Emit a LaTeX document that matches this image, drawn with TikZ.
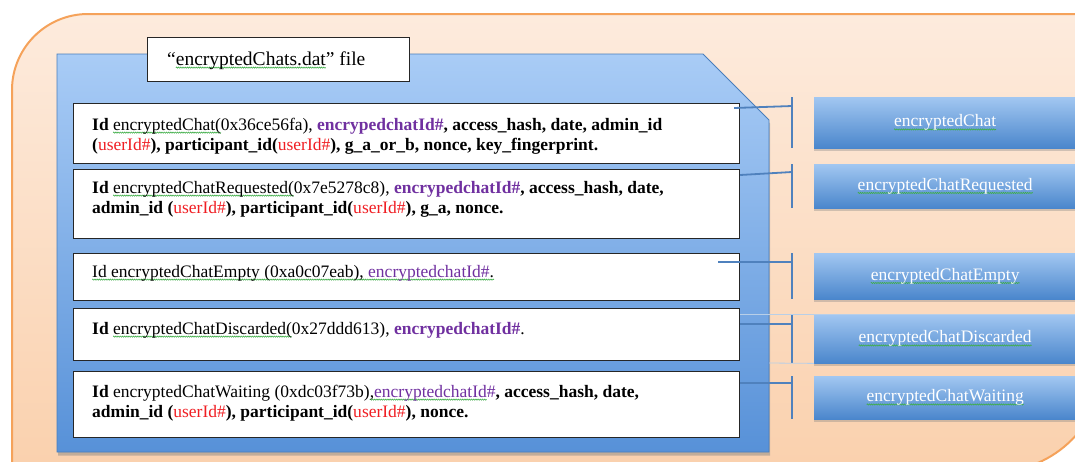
\documentclass[tikz,border=0pt]{standalone}
\usepackage{fontspec}
\setmainfont{Liberation Serif}
\usetikzlibrary{shadows,calc,decorations.pathmorphing}

\definecolor{frametop}{HTML}{FDEBDD}
\definecolor{framebot}{HTML}{FAD0AC}
\definecolor{frameline}{HTML}{F5A25A}
\definecolor{paneltop}{HTML}{A9CCF6}
\definecolor{panelbot}{HTML}{5791D8}
\definecolor{panelline}{HTML}{4A7EBB}
\definecolor{btntop}{HTML}{A2C7F1}
\definecolor{btnbot}{HTML}{4A86CC}
\definecolor{connblue}{HTML}{4F81BD}
\definecolor{faintblue}{HTML}{B8CFE8}
\definecolor{idpurple}{HTML}{7030A0}
\definecolor{idred}{HTML}{F01E23}
\definecolor{sqgreen}{HTML}{3FAE48}

% green wavy spell-check underline
\newsavebox\sqbox
\newcommand\squig[1]{\sbox\sqbox{#1}\rlap{\tikz[overlay, baseline=0pt, x=1pt, y=1pt]
  \draw[sqgreen, line width=0.6pt, decorate,
    decoration={zigzag, segment length=2.2pt, amplitude=0.6pt}]
  (0pt,-2.6pt) -- (\the\wd\sqbox,-2.6pt);}\usebox\sqbox}
\newcommand\pu[1]{\textcolor{idpurple}{#1}}
\newcommand\rd[1]{\textcolor{idred}{#1}}

\tikzset{
  x=1pt, y=-1pt,
  rec/.style={draw=black!85, line width=1.2pt, fill=white, anchor=north west,
    inner sep=0pt, minimum width=666pt},
  recline/.style={anchor=base west, inner sep=0pt,
    font=\fontsize{17.5}{20}\selectfont},
  btn/.style={anchor=north west, inner sep=0pt, minimum width=262pt,
    top color=btntop, bottom color=btnbot, text=white,
    font=\fontsize{17.5}{20}\selectfont,
    drop shadow={opacity=0.35, shadow xshift=0pt, shadow yshift=-2.5pt}},
  conn/.style={draw=connblue, line width=1.8pt},
  faint/.style={draw=faintblue, line width=0.8pt},
}

\begin{document}
\begin{tikzpicture}
\clip (0,0) rectangle (1075,461);
\path[use as bounding box] (0,0) rectangle (1075,461);
\fill[white] (0,0) rectangle (1075,461);

% outer frame: rounded top-left and bottom-right corners
\path[draw=frameline, line width=2pt, top color=frametop, bottom color=framebot]
  (12,480) -- (12,90) arc[start angle=180, end angle=270, radius=76]
  -- (1104,14) -- (1104,362) arc[start angle=0, end angle=90, radius=110]
  -- (12,472) -- cycle;

% file panel with clipped top-right corner
\path[draw=panelline, line width=0.8pt, top color=paneltop, bottom color=panelbot,
  drop shadow={opacity=0.45, shadow xshift=1pt, shadow yshift=-3.5pt}]
  (57,54) -- (703,54) -- (769,120) -- (769,452) -- (57,452) -- cycle;

% file title
\node[draw=black!85, line width=1.2pt, fill=white, anchor=north west,
  minimum width=262pt, minimum height=44pt, inner sep=0pt] (title) at (147,37) {};
\node[anchor=base west, inner sep=0pt, font=\fontsize{19.5}{22}\selectfont] (titletext)
  at ($(title.north west)+(20,28)$) {“\squig{encryptedChats.dat}” file};

% records
\node[rec, minimum height=60pt] (r1) at (73,103) {};
\node[rec, minimum height=69pt] (r2) at (73,169) {};
\node[rec, minimum height=47pt] (r3) at (73,253) {};
\node[rec, minimum height=52pt] (r4) at (73,308) {};
\node[rec, minimum height=66pt] (r5) at (73,371) {};

\node[recline] (t1a) at ($(r1.north west)+(19,27)$)
  {\textbf{Id} \squig{encryptedChat(}0x36ce56fa), \textbf{\pu{encrypedchatId\#}, access\_hash, date, admin\_id}};
\node[recline] (t1b) at ($(t1a.base west)+(0,20)$)
  {\textbf{(}\rd{userId\#}\textbf{), participant\_id(}\rd{userId\#}\textbf{), g\_a\_or\_b, nonce, key\_fingerprint.}};
\node[recline] (t2a) at ($(r2.north west)+(19,24)$)
  {\textbf{Id} \squig{encryptedChatRequested(}0x7e5278c8), \textbf{\pu{encrypedchatId\#}, access\_hash, date,}};
\node[recline] (t2b) at ($(t2a.base west)+(0,20)$)
  {\textbf{admin\_id (}\rd{userId\#}\textbf{), participant\_id(}\rd{userId\#}\textbf{), g\_a, nonce.}};
\node[recline] (t3a) at ($(r3.north west)+(19,24)$)
  {\squig{Id encryptedChatEmpty (0xa0c07eab), \pu{encryptedchatId\#}.}};
\node[recline] (t4a) at ($(r4.north west)+(19,26)$)
  {\textbf{Id} \squig{encryptedChatDiscarded(}0x27ddd613), \textbf{\pu{encrypedchatId\#}}.};
\node[recline] (t5a) at ($(r5.north west)+(19,26)$)
  {\textbf{Id} encryptedChatWaiting (0xdc03f73b)\squig{,\pu{encryptedchatId}}\pu{\#}\textbf{, access\_hash, date,}};
\node[recline] (t5b) at ($(t5a.base west)+(0,20)$)
  {\textbf{admin\_id (}\rd{userId\#}\textbf{), participant\_id(}\rd{userId\#}\textbf{), nonce.}};

% constructor buttons
\node[btn, minimum height=51pt] (b1) at (814,97)  {\squig{encryptedChat}};
\node[btn, minimum height=44pt] (b2) at (814,164) {\squig{encryptedChatRequested}};
\node[btn, minimum height=46pt] (b3) at (814,253) {\squig{encryptedChatEmpty}};
\node[btn, minimum height=49pt] (b4) at (814,314) {\squig{encryptedChatDiscarded}};
\node[btn, minimum height=43pt] (b5) at (814,376) {\squig{encryptedChatWaiting}};

% tee bars in front of the buttons
\foreach \i in {1,...,5} {
  \coordinate (a\i) at ($(b\i.north west)+(-22,0)$);
  \coordinate (z\i) at ($(b\i.south west)+(-22,0)$);
  \draw[conn] (a\i) -- (z\i);
}

% faint outline around the discarded link
\draw[faint] (r4.east |- b4.north) -- (1075,314);
\draw[faint] (769,363) -- (b4.south west);

% links from records to bars
\draw[conn] ($(r1.north east)+(-6,5)$) -- ($(a1)+(0,9)$);
\draw[conn] ($(r2.north east)+(0,6)$) -- ($(a2)+(0,8)$);
\draw[conn] ($(r3.north east)+(-22,9)$) -- ($(a3)+(0,9)$);
\draw[conn] ($(r4.north east)+(0,16)$) -- ($(a4)+(0,10)$);
\draw[conn] ($(r5.north east)+(0,12)$) -- ($(a5)+(0,7)$);
\end{tikzpicture}
\end{document}
